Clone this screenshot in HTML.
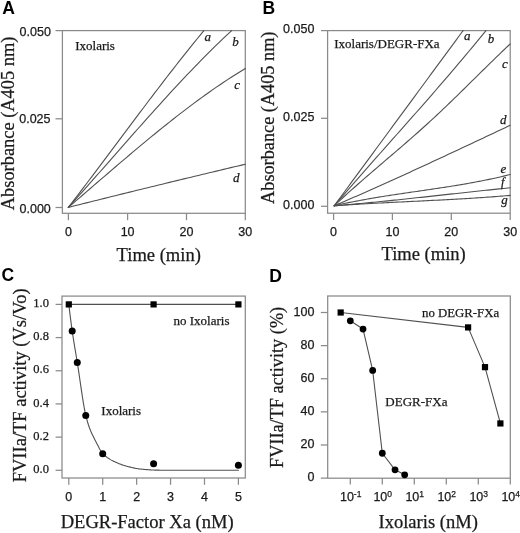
<!DOCTYPE html>
<html><head><meta charset="utf-8"><style>
html,body{margin:0;padding:0;background:#fff;overflow:hidden;}
svg{display:block;will-change:transform;}
</style></head><body>
<svg width="520" height="533" viewBox="0 0 520 533">
<rect width="520" height="533" fill="#fff"/>
<rect x="62.40" y="30.60" width="182.90" height="182.70" fill="none" stroke="#8a8a8a" stroke-width="1.25"/>
<line x1="55.50" y1="30.60" x2="62.40" y2="30.60" stroke="#8a8a8a" stroke-width="1.25"/>
<line x1="55.50" y1="118.80" x2="62.40" y2="118.80" stroke="#8a8a8a" stroke-width="1.25"/>
<line x1="55.50" y1="207.50" x2="62.40" y2="207.50" stroke="#8a8a8a" stroke-width="1.25"/>
<text x="50.90" y="36.20" font-family='"Liberation Sans", sans-serif' font-size="12.5" text-anchor="end" font-weight="normal" font-style="normal" fill="#1a1a1a" stroke="#1a1a1a" stroke-width="0.25">0.050</text>
<text x="50.50" y="122.90" font-family='"Liberation Sans", sans-serif' font-size="12.5" text-anchor="end" font-weight="normal" font-style="normal" fill="#1a1a1a" stroke="#1a1a1a" stroke-width="0.25">0.025</text>
<text x="50.80" y="212.80" font-family='"Liberation Sans", sans-serif' font-size="12.5" text-anchor="end" font-weight="normal" font-style="normal" fill="#1a1a1a" stroke="#1a1a1a" stroke-width="0.25">0.000</text>
<line x1="68.40" y1="213.30" x2="68.40" y2="220.20" stroke="#8a8a8a" stroke-width="1.25"/>
<text x="68.40" y="235.50" font-family='"Liberation Sans", sans-serif' font-size="12.5" text-anchor="middle" font-weight="normal" font-style="normal" fill="#1a1a1a" stroke="#1a1a1a" stroke-width="0.25">0</text>
<line x1="127.60" y1="213.30" x2="127.60" y2="220.20" stroke="#8a8a8a" stroke-width="1.25"/>
<text x="127.60" y="235.50" font-family='"Liberation Sans", sans-serif' font-size="12.5" text-anchor="middle" font-weight="normal" font-style="normal" fill="#1a1a1a" stroke="#1a1a1a" stroke-width="0.25">10</text>
<line x1="186.50" y1="213.30" x2="186.50" y2="220.20" stroke="#8a8a8a" stroke-width="1.25"/>
<text x="186.50" y="235.50" font-family='"Liberation Sans", sans-serif' font-size="12.5" text-anchor="middle" font-weight="normal" font-style="normal" fill="#1a1a1a" stroke="#1a1a1a" stroke-width="0.25">20</text>
<line x1="245.30" y1="213.30" x2="245.30" y2="220.20" stroke="#8a8a8a" stroke-width="1.25"/>
<text x="245.30" y="235.50" font-family='"Liberation Sans", sans-serif' font-size="12.5" text-anchor="middle" font-weight="normal" font-style="normal" fill="#1a1a1a" stroke="#1a1a1a" stroke-width="0.25">30</text>
<text x="116.60" y="261.00" font-family='"Liberation Serif", serif' font-size="18.55" text-anchor="start" font-weight="normal" font-style="normal" fill="#1a1a1a" stroke="#1a1a1a" stroke-width="0.25">Time (min)</text>
<text x="14.20" y="210.20" font-family='"Liberation Serif", serif' font-size="18.4" text-anchor="start" font-weight="normal" font-style="normal" fill="#1a1a1a" stroke="#1a1a1a" stroke-width="0.25" transform="rotate(-90 14.20 210.20)">Absorbance (A405 nm)</text>
<text x="75.20" y="49.60" font-family='"Liberation Serif", serif' font-size="13" text-anchor="start" font-weight="normal" font-style="normal" fill="#1a1a1a" stroke="#1a1a1a" stroke-width="0.25">Ixolaris</text>
<polyline points="68.30,207.40 71.29,203.54 74.29,199.66 77.28,195.76 80.28,191.85 83.27,187.93 86.26,183.99 89.26,180.04 92.25,176.09 95.24,172.12 98.24,168.14 101.23,164.16 104.23,160.17 107.22,156.18 110.21,152.18 113.21,148.18 116.20,144.18 119.20,140.17 122.19,136.17 125.18,132.17 128.18,128.16 131.17,124.17 134.17,120.17 137.16,116.18 140.15,112.20 143.15,108.22 146.14,104.25 149.13,100.29 152.13,96.34 155.12,92.40 158.12,88.47 161.11,84.56 164.10,80.66 167.10,76.78 170.09,72.91 173.09,69.06 176.08,65.22 179.07,61.41 182.07,57.61 185.06,53.84 188.06,50.09 191.05,46.36 194.04,42.66 197.04,38.98 200.03,35.33 203.02,31.70 203.94,30.60" fill="none" stroke="#505050" stroke-width="1.1" stroke-linejoin="round" stroke-linecap="round"/>
<polyline points="68.30,207.40 71.80,203.52 75.31,199.62 78.81,195.71 82.32,191.78 85.82,187.85 89.32,183.90 92.83,179.94 96.33,175.98 99.84,172.00 103.34,168.03 106.84,164.05 110.35,160.06 113.85,156.08 117.36,152.09 120.86,148.11 124.37,144.13 127.87,140.15 131.37,136.18 134.88,132.22 138.38,128.26 141.89,124.32 145.39,120.38 148.89,116.46 152.40,112.54 155.90,108.65 159.41,104.77 162.91,100.91 166.41,97.06 169.92,93.24 173.42,89.44 176.93,85.66 180.43,81.90 183.93,78.17 187.44,74.47 190.94,70.79 194.45,67.15 197.95,63.53 201.46,59.95 204.96,56.40 208.46,52.88 211.97,49.40 215.47,45.96 218.98,42.56 222.48,39.20 225.98,35.88 229.49,32.60 231.65,30.60" fill="none" stroke="#505050" stroke-width="1.1" stroke-linejoin="round" stroke-linecap="round"/>
<polyline points="68.30,207.40 71.91,204.30 75.52,201.20 79.14,198.10 82.75,194.99 86.36,191.88 89.97,188.76 93.59,185.65 97.20,182.54 100.81,179.43 104.42,176.32 108.03,173.22 111.65,170.12 115.26,167.03 118.87,163.94 122.48,160.87 126.10,157.80 129.71,154.74 133.32,151.70 136.93,148.66 140.54,145.64 144.16,142.64 147.77,139.65 151.38,136.67 154.99,133.72 158.61,130.78 162.22,127.86 165.83,124.96 169.44,122.09 173.06,119.23 176.67,116.41 180.28,113.60 183.89,110.82 187.50,108.07 191.12,105.35 194.73,102.65 198.34,99.99 201.95,97.35 205.57,94.75 209.18,92.18 212.79,89.65 216.40,87.15 220.01,84.69 223.63,82.26 227.24,79.88 230.85,77.53 234.46,75.22 238.08,72.95 241.69,70.73 245.30,68.55" fill="none" stroke="#505050" stroke-width="1.1" stroke-linejoin="round" stroke-linecap="round"/>
<polyline points="68.30,207.40 71.91,206.49 75.52,205.58 79.14,204.68 82.75,203.77 86.36,202.87 89.97,201.97 93.59,201.07 97.20,200.17 100.81,199.27 104.42,198.37 108.03,197.47 111.65,196.58 115.26,195.68 118.87,194.79 122.48,193.90 126.10,193.00 129.71,192.11 133.32,191.23 136.93,190.34 140.54,189.45 144.16,188.57 147.77,187.68 151.38,186.80 154.99,185.92 158.61,185.04 162.22,184.16 165.83,183.28 169.44,182.40 173.06,181.52 176.67,180.65 180.28,179.77 183.89,178.90 187.50,178.03 191.12,177.16 194.73,176.29 198.34,175.42 201.95,174.55 205.57,173.69 209.18,172.82 212.79,171.96 216.40,171.10 220.01,170.23 223.63,169.37 227.24,168.52 230.85,167.66 234.46,166.80 238.08,165.94 241.69,165.09 245.30,164.24" fill="none" stroke="#505050" stroke-width="1.1" stroke-linejoin="round" stroke-linecap="round"/>
<text x="204.60" y="41.10" font-family='"Liberation Serif", serif' font-size="13" text-anchor="start" font-weight="normal" font-style="italic" fill="#1a1a1a" stroke="#1a1a1a" stroke-width="0.25">a</text>
<text x="232.20" y="46.40" font-family='"Liberation Serif", serif' font-size="13" text-anchor="start" font-weight="normal" font-style="italic" fill="#1a1a1a" stroke="#1a1a1a" stroke-width="0.25">b</text>
<text x="234.20" y="88.70" font-family='"Liberation Serif", serif' font-size="13" text-anchor="start" font-weight="normal" font-style="italic" fill="#1a1a1a" stroke="#1a1a1a" stroke-width="0.25">c</text>
<text x="233.00" y="181.70" font-family='"Liberation Serif", serif' font-size="13" text-anchor="start" font-weight="normal" font-style="italic" fill="#1a1a1a" stroke="#1a1a1a" stroke-width="0.25">d</text>
<text x="2.30" y="13.80" font-family='"Liberation Sans", sans-serif' font-size="17.5" text-anchor="start" font-weight="bold" font-style="normal" fill="#000">A</text>
<rect x="327.60" y="30.60" width="182.60" height="182.60" fill="none" stroke="#8a8a8a" stroke-width="1.25"/>
<line x1="321.00" y1="30.60" x2="327.60" y2="30.60" stroke="#8a8a8a" stroke-width="1.25"/>
<line x1="321.00" y1="118.30" x2="327.60" y2="118.30" stroke="#8a8a8a" stroke-width="1.25"/>
<line x1="321.00" y1="206.30" x2="327.60" y2="206.30" stroke="#8a8a8a" stroke-width="1.25"/>
<text x="314.40" y="33.00" font-family='"Liberation Sans", sans-serif' font-size="12.5" text-anchor="end" font-weight="normal" font-style="normal" fill="#1a1a1a" stroke="#1a1a1a" stroke-width="0.25">0.050</text>
<text x="314.40" y="120.70" font-family='"Liberation Sans", sans-serif' font-size="12.5" text-anchor="end" font-weight="normal" font-style="normal" fill="#1a1a1a" stroke="#1a1a1a" stroke-width="0.25">0.025</text>
<text x="314.40" y="208.60" font-family='"Liberation Sans", sans-serif' font-size="12.5" text-anchor="end" font-weight="normal" font-style="normal" fill="#1a1a1a" stroke="#1a1a1a" stroke-width="0.25">0.000</text>
<line x1="333.60" y1="213.20" x2="333.60" y2="220.00" stroke="#8a8a8a" stroke-width="1.25"/>
<text x="333.60" y="235.50" font-family='"Liberation Sans", sans-serif' font-size="12.5" text-anchor="middle" font-weight="normal" font-style="normal" fill="#1a1a1a" stroke="#1a1a1a" stroke-width="0.25">0</text>
<line x1="392.40" y1="213.20" x2="392.40" y2="220.00" stroke="#8a8a8a" stroke-width="1.25"/>
<text x="392.40" y="235.50" font-family='"Liberation Sans", sans-serif' font-size="12.5" text-anchor="middle" font-weight="normal" font-style="normal" fill="#1a1a1a" stroke="#1a1a1a" stroke-width="0.25">10</text>
<line x1="451.30" y1="213.20" x2="451.30" y2="220.00" stroke="#8a8a8a" stroke-width="1.25"/>
<text x="451.30" y="235.50" font-family='"Liberation Sans", sans-serif' font-size="12.5" text-anchor="middle" font-weight="normal" font-style="normal" fill="#1a1a1a" stroke="#1a1a1a" stroke-width="0.25">20</text>
<line x1="510.20" y1="213.20" x2="510.20" y2="220.00" stroke="#8a8a8a" stroke-width="1.25"/>
<text x="510.20" y="235.50" font-family='"Liberation Sans", sans-serif' font-size="12.5" text-anchor="middle" font-weight="normal" font-style="normal" fill="#1a1a1a" stroke="#1a1a1a" stroke-width="0.25">30</text>
<text x="381.50" y="260.40" font-family='"Liberation Serif", serif' font-size="18.55" text-anchor="start" font-weight="normal" font-style="normal" fill="#1a1a1a" stroke="#1a1a1a" stroke-width="0.25">Time (min)</text>
<text x="274.20" y="203.90" font-family='"Liberation Serif", serif' font-size="18.25" text-anchor="start" font-weight="normal" font-style="normal" fill="#1a1a1a" stroke="#1a1a1a" stroke-width="0.25" transform="rotate(-90 274.20 203.90)">Absorbance (A405 nm)</text>
<text x="334.20" y="47.80" font-family='"Liberation Serif", serif' font-size="13" text-anchor="start" font-weight="normal" font-style="normal" fill="#1a1a1a" stroke="#1a1a1a" stroke-width="0.25">Ixolaris/DEGR-FXa</text>
<polyline points="334.20,205.80 336.97,202.03 339.74,198.27 342.51,194.50 345.29,190.73 348.06,186.96 350.83,183.20 353.60,179.43 356.37,175.66 359.14,171.90 361.91,168.13 364.69,164.36 367.46,160.60 370.23,156.83 373.00,153.06 375.77,149.29 378.54,145.53 381.31,141.76 384.09,137.99 386.86,134.23 389.63,130.46 392.40,126.69 395.17,122.92 397.94,119.16 400.71,115.39 403.49,111.62 406.26,107.86 409.03,104.09 411.80,100.32 414.57,96.56 417.34,92.79 420.11,89.02 422.89,85.25 425.66,81.49 428.43,77.72 431.20,73.95 433.97,70.19 436.74,66.42 439.51,62.65 442.29,58.88 445.06,55.12 447.83,51.35 450.60,47.58 453.37,43.82 456.14,40.05 458.91,36.28 461.69,32.51 463.09,30.60" fill="none" stroke="#505050" stroke-width="1.1" stroke-linejoin="round" stroke-linecap="round"/>
<polyline points="334.20,205.80 337.48,201.98 340.76,198.17 344.04,194.37 347.33,190.59 350.61,186.82 353.89,183.06 357.17,179.31 360.45,175.57 363.73,171.83 367.02,168.11 370.30,164.39 373.58,160.67 376.86,156.96 380.14,153.26 383.42,149.55 386.71,145.85 389.99,142.15 393.27,138.45 396.55,134.75 399.83,131.05 403.11,127.35 406.40,123.64 409.68,119.93 412.96,116.22 416.24,112.50 419.52,108.77 422.80,105.03 426.09,101.29 429.37,97.54 432.65,93.78 435.93,90.01 439.21,86.22 442.49,82.42 445.78,78.62 449.06,74.79 452.34,70.95 455.62,67.10 458.90,63.23 462.18,59.34 465.47,55.43 468.75,51.50 472.03,47.56 475.31,43.59 478.59,39.60 481.87,35.59 485.16,31.55 485.92,30.60" fill="none" stroke="#505050" stroke-width="1.1" stroke-linejoin="round" stroke-linecap="round"/>
<polyline points="334.20,205.80 336.43,203.70 338.66,201.62 340.88,199.56 343.11,197.51 345.34,195.48 347.57,193.46 349.79,191.45 352.02,189.45 354.25,187.47 356.48,185.49 358.71,183.53 360.93,181.57 363.16,179.62 365.39,177.68 367.62,175.75 369.85,173.82 372.07,171.90 374.30,169.98 376.53,168.07 378.76,166.16 380.98,164.25 383.21,162.35 385.44,160.44 387.67,158.54 389.90,156.63 392.12,154.73 394.35,152.82 396.58,150.91 398.81,148.99 401.04,147.07 403.26,145.15 405.49,143.22 407.72,141.29 409.95,139.35 412.17,137.40 414.40,135.44 416.63,133.47 418.86,131.50 421.09,129.51 423.31,127.51 425.54,125.50 427.77,123.47 430.00,121.44 432.23,119.39 434.45,117.32 436.68,115.24 438.91,113.15 441.14,111.04 443.36,108.93 445.59,106.80 447.82,104.66 450.05,102.52 452.28,100.37 454.50,98.20 456.73,96.04 458.96,93.86 461.19,91.68 463.42,89.50 465.64,87.31 467.87,85.12 470.10,82.93 472.33,80.73 474.55,78.53 476.78,76.34 479.01,74.14 481.24,71.95 483.47,69.76 485.69,67.57 487.92,65.38 490.15,63.20 492.38,61.03 494.61,58.86 496.83,56.70 499.06,54.54 501.29,52.39 503.52,50.26 505.74,48.13 507.97,46.01 510.20,43.90" fill="none" stroke="#505050" stroke-width="1.1" stroke-linejoin="round" stroke-linecap="round"/>
<polyline points="334.20,205.80 336.43,204.84 338.66,203.88 340.88,202.92 343.11,201.96 345.34,200.99 347.57,200.02 349.79,199.05 352.02,198.08 354.25,197.10 356.48,196.13 358.71,195.15 360.93,194.17 363.16,193.18 365.39,192.20 367.62,191.21 369.85,190.22 372.07,189.23 374.30,188.24 376.53,187.24 378.76,186.25 380.98,185.25 383.21,184.25 385.44,183.25 387.67,182.25 389.90,181.24 392.12,180.24 394.35,179.23 396.58,178.22 398.81,177.21 401.04,176.19 403.26,175.18 405.49,174.16 407.72,173.15 409.95,172.13 412.17,171.11 414.40,170.09 416.63,169.06 418.86,168.04 421.09,167.01 423.31,165.99 425.54,164.96 427.77,163.93 430.00,162.90 432.23,161.87 434.45,160.84 436.68,159.80 438.91,158.77 441.14,157.73 443.36,156.70 445.59,155.66 447.82,154.62 450.05,153.58 452.28,152.54 454.50,151.50 456.73,150.46 458.96,149.42 461.19,148.37 463.42,147.33 465.64,146.28 467.87,145.24 470.10,144.19 472.33,143.15 474.55,142.10 476.78,141.05 479.01,140.00 481.24,138.95 483.47,137.90 485.69,136.85 487.92,135.80 490.15,134.75 492.38,133.70 494.61,132.65 496.83,131.59 499.06,130.54 501.29,129.49 503.52,128.44 505.74,127.38 507.97,126.33 510.20,125.28" fill="none" stroke="#505050" stroke-width="1.1" stroke-linejoin="round" stroke-linecap="round"/>
<polyline points="334.20,205.80 336.43,205.29 338.66,204.78 340.88,204.29 343.11,203.81 345.34,203.33 347.57,202.87 349.79,202.41 352.02,201.97 354.25,201.53 356.48,201.10 358.71,200.67 360.93,200.26 363.16,199.85 365.39,199.44 367.62,199.05 369.85,198.66 372.07,198.27 374.30,197.90 376.53,197.52 378.76,197.16 380.98,196.79 383.21,196.44 385.44,196.08 387.67,195.73 389.90,195.39 392.12,195.04 394.35,194.70 396.58,194.37 398.81,194.03 401.04,193.70 403.26,193.37 405.49,193.04 407.72,192.72 409.95,192.39 412.17,192.07 414.40,191.74 416.63,191.42 418.86,191.10 421.09,190.78 423.31,190.45 425.54,190.13 427.77,189.80 430.00,189.48 432.23,189.15 434.45,188.82 436.68,188.48 438.91,188.15 441.14,187.81 443.36,187.47 445.59,187.13 447.82,186.78 450.05,186.43 452.28,186.08 454.50,185.72 456.73,185.35 458.96,184.98 461.19,184.61 463.42,184.23 465.64,183.84 467.87,183.45 470.10,183.06 472.33,182.65 474.55,182.24 476.78,181.82 479.01,181.40 481.24,180.96 483.47,180.52 485.69,180.07 487.92,179.61 490.15,179.15 492.38,178.67 494.61,178.19 496.83,177.69 499.06,177.19 501.29,176.67 503.52,176.14 505.74,175.61 507.97,175.06 510.20,174.50" fill="none" stroke="#505050" stroke-width="1.1" stroke-linejoin="round" stroke-linecap="round"/>
<polyline points="334.20,205.80 336.43,205.62 338.66,205.43 340.88,205.25 343.11,205.06 345.34,204.87 347.57,204.67 349.79,204.48 352.02,204.28 354.25,204.08 356.48,203.88 358.71,203.67 360.93,203.47 363.16,203.26 365.39,203.05 367.62,202.84 369.85,202.62 372.07,202.41 374.30,202.19 376.53,201.97 378.76,201.75 380.98,201.53 383.21,201.31 385.44,201.08 387.67,200.85 389.90,200.63 392.12,200.40 394.35,200.17 396.58,199.94 398.81,199.70 401.04,199.47 403.26,199.24 405.49,199.00 407.72,198.76 409.95,198.53 412.17,198.29 414.40,198.05 416.63,197.81 418.86,197.57 421.09,197.33 423.31,197.09 425.54,196.85 427.77,196.60 430.00,196.36 432.23,196.12 434.45,195.87 436.68,195.63 438.91,195.39 441.14,195.14 443.36,194.90 445.59,194.65 447.82,194.41 450.05,194.17 452.28,193.92 454.50,193.68 456.73,193.43 458.96,193.19 461.19,192.95 463.42,192.71 465.64,192.46 467.87,192.22 470.10,191.98 472.33,191.74 474.55,191.50 476.78,191.26 479.01,191.02 481.24,190.78 483.47,190.55 485.69,190.31 487.92,190.08 490.15,189.84 492.38,189.61 494.61,189.38 496.83,189.15 499.06,188.92 501.29,188.69 503.52,188.46 505.74,188.24 507.97,188.01 510.20,187.79" fill="none" stroke="#505050" stroke-width="1.1" stroke-linejoin="round" stroke-linecap="round"/>
<polyline points="334.20,205.80 336.43,205.64 338.66,205.48 340.88,205.33 343.11,205.18 345.34,205.03 347.57,204.88 349.79,204.74 352.02,204.60 354.25,204.46 356.48,204.33 358.71,204.19 360.93,204.06 363.16,203.93 365.39,203.80 367.62,203.68 369.85,203.55 372.07,203.43 374.30,203.31 376.53,203.19 378.76,203.07 380.98,202.95 383.21,202.84 385.44,202.72 387.67,202.61 389.90,202.50 392.12,202.38 394.35,202.27 396.58,202.16 398.81,202.05 401.04,201.94 403.26,201.84 405.49,201.73 407.72,201.62 409.95,201.51 412.17,201.40 414.40,201.30 416.63,201.19 418.86,201.08 421.09,200.97 423.31,200.86 425.54,200.75 427.77,200.64 430.00,200.53 432.23,200.42 434.45,200.31 436.68,200.20 438.91,200.08 441.14,199.97 443.36,199.85 445.59,199.73 447.82,199.62 450.05,199.50 452.28,199.37 454.50,199.25 456.73,199.13 458.96,199.00 461.19,198.87 463.42,198.74 465.64,198.61 467.87,198.47 470.10,198.34 472.33,198.20 474.55,198.06 476.78,197.91 479.01,197.77 481.24,197.62 483.47,197.47 485.69,197.31 487.92,197.16 490.15,196.99 492.38,196.83 494.61,196.66 496.83,196.49 499.06,196.32 501.29,196.14 503.52,195.96 505.74,195.78 507.97,195.59 510.20,195.40" fill="none" stroke="#505050" stroke-width="1.1" stroke-linejoin="round" stroke-linecap="round"/>
<text x="464.00" y="39.80" font-family='"Liberation Serif", serif' font-size="13" text-anchor="start" font-weight="normal" font-style="italic" fill="#1a1a1a" stroke="#1a1a1a" stroke-width="0.25">a</text>
<text x="487.80" y="43.10" font-family='"Liberation Serif", serif' font-size="13" text-anchor="start" font-weight="normal" font-style="italic" fill="#1a1a1a" stroke="#1a1a1a" stroke-width="0.25">b</text>
<text x="502.00" y="67.70" font-family='"Liberation Serif", serif' font-size="13" text-anchor="start" font-weight="normal" font-style="italic" fill="#1a1a1a" stroke="#1a1a1a" stroke-width="0.25">c</text>
<text x="500.00" y="123.70" font-family='"Liberation Serif", serif' font-size="13" text-anchor="start" font-weight="normal" font-style="italic" fill="#1a1a1a" stroke="#1a1a1a" stroke-width="0.25">d</text>
<text x="500.40" y="172.90" font-family='"Liberation Serif", serif' font-size="13" text-anchor="start" font-weight="normal" font-style="italic" fill="#1a1a1a" stroke="#1a1a1a" stroke-width="0.25">e</text>
<text x="501.00" y="185.60" font-family='"Liberation Serif", serif' font-size="12.4" text-anchor="start" font-weight="normal" font-style="italic" fill="#1a1a1a" stroke="#1a1a1a" stroke-width="0.25">f</text>
<text x="501.30" y="204.30" font-family='"Liberation Serif", serif' font-size="13" text-anchor="start" font-weight="normal" font-style="italic" fill="#1a1a1a" stroke="#1a1a1a" stroke-width="0.25">g</text>
<text x="262.60" y="13.80" font-family='"Liberation Sans", sans-serif' font-size="17.5" text-anchor="start" font-weight="bold" font-style="normal" fill="#000">B</text>
<rect x="62.00" y="296.10" width="183.30" height="181.90" fill="none" stroke="#8a8a8a" stroke-width="1.25"/>
<line x1="55.60" y1="470.30" x2="62.00" y2="470.30" stroke="#8a8a8a" stroke-width="1.25"/>
<text x="48.90" y="473.00" font-family='"Liberation Serif", serif' font-size="12.5" text-anchor="end" font-weight="normal" font-style="normal" fill="#1a1a1a" stroke="#1a1a1a" stroke-width="0.25">0.0</text>
<line x1="55.60" y1="437.12" x2="62.00" y2="437.12" stroke="#8a8a8a" stroke-width="1.25"/>
<text x="48.90" y="439.82" font-family='"Liberation Serif", serif' font-size="12.5" text-anchor="end" font-weight="normal" font-style="normal" fill="#1a1a1a" stroke="#1a1a1a" stroke-width="0.25">0.2</text>
<line x1="55.60" y1="403.94" x2="62.00" y2="403.94" stroke="#8a8a8a" stroke-width="1.25"/>
<text x="48.90" y="406.64" font-family='"Liberation Serif", serif' font-size="12.5" text-anchor="end" font-weight="normal" font-style="normal" fill="#1a1a1a" stroke="#1a1a1a" stroke-width="0.25">0.4</text>
<line x1="55.60" y1="370.76" x2="62.00" y2="370.76" stroke="#8a8a8a" stroke-width="1.25"/>
<text x="48.90" y="373.46" font-family='"Liberation Serif", serif' font-size="12.5" text-anchor="end" font-weight="normal" font-style="normal" fill="#1a1a1a" stroke="#1a1a1a" stroke-width="0.25">0.6</text>
<line x1="55.60" y1="337.58" x2="62.00" y2="337.58" stroke="#8a8a8a" stroke-width="1.25"/>
<text x="48.90" y="340.28" font-family='"Liberation Serif", serif' font-size="12.5" text-anchor="end" font-weight="normal" font-style="normal" fill="#1a1a1a" stroke="#1a1a1a" stroke-width="0.25">0.8</text>
<line x1="55.60" y1="304.40" x2="62.00" y2="304.40" stroke="#8a8a8a" stroke-width="1.25"/>
<text x="48.90" y="307.10" font-family='"Liberation Serif", serif' font-size="12.5" text-anchor="end" font-weight="normal" font-style="normal" fill="#1a1a1a" stroke="#1a1a1a" stroke-width="0.25">1.0</text>
<line x1="68.80" y1="478.00" x2="68.80" y2="484.80" stroke="#8a8a8a" stroke-width="1.25"/>
<text x="68.80" y="501.00" font-family='"Liberation Sans", sans-serif' font-size="12.5" text-anchor="middle" font-weight="normal" font-style="normal" fill="#1a1a1a" stroke="#1a1a1a" stroke-width="0.25">0</text>
<line x1="102.72" y1="478.00" x2="102.72" y2="484.80" stroke="#8a8a8a" stroke-width="1.25"/>
<text x="102.72" y="501.00" font-family='"Liberation Sans", sans-serif' font-size="12.5" text-anchor="middle" font-weight="normal" font-style="normal" fill="#1a1a1a" stroke="#1a1a1a" stroke-width="0.25">1</text>
<line x1="136.64" y1="478.00" x2="136.64" y2="484.80" stroke="#8a8a8a" stroke-width="1.25"/>
<text x="136.64" y="501.00" font-family='"Liberation Sans", sans-serif' font-size="12.5" text-anchor="middle" font-weight="normal" font-style="normal" fill="#1a1a1a" stroke="#1a1a1a" stroke-width="0.25">2</text>
<line x1="170.56" y1="478.00" x2="170.56" y2="484.80" stroke="#8a8a8a" stroke-width="1.25"/>
<text x="170.56" y="501.00" font-family='"Liberation Sans", sans-serif' font-size="12.5" text-anchor="middle" font-weight="normal" font-style="normal" fill="#1a1a1a" stroke="#1a1a1a" stroke-width="0.25">3</text>
<line x1="204.48" y1="478.00" x2="204.48" y2="484.80" stroke="#8a8a8a" stroke-width="1.25"/>
<text x="204.48" y="501.00" font-family='"Liberation Sans", sans-serif' font-size="12.5" text-anchor="middle" font-weight="normal" font-style="normal" fill="#1a1a1a" stroke="#1a1a1a" stroke-width="0.25">4</text>
<line x1="238.40" y1="478.00" x2="238.40" y2="484.80" stroke="#8a8a8a" stroke-width="1.25"/>
<text x="238.40" y="501.00" font-family='"Liberation Sans", sans-serif' font-size="12.5" text-anchor="middle" font-weight="normal" font-style="normal" fill="#1a1a1a" stroke="#1a1a1a" stroke-width="0.25">5</text>
<text x="60.70" y="528.40" font-family='"Liberation Serif", serif' font-size="18.55" text-anchor="start" font-weight="normal" font-style="normal" fill="#1a1a1a" stroke="#1a1a1a" stroke-width="0.25">DEGR-Factor Xa (nM)</text>
<text x="25.60" y="482.30" font-family='"Liberation Serif", serif' font-size="18.5" text-anchor="start" font-weight="normal" font-style="normal" fill="#1a1a1a" stroke="#1a1a1a" stroke-width="0.25" transform="rotate(-90 25.60 482.30)">FVIIa/TF activity (Vs/Vo)</text>
<text x="173.50" y="324.80" font-family='"Liberation Serif", serif' font-size="13" text-anchor="start" font-weight="normal" font-style="normal" fill="#1a1a1a" stroke="#1a1a1a" stroke-width="0.25">no Ixolaris</text>
<text x="101.30" y="414.80" font-family='"Liberation Serif", serif' font-size="13" text-anchor="start" font-weight="normal" font-style="normal" fill="#1a1a1a" stroke="#1a1a1a" stroke-width="0.25">Ixolaris</text>
<polyline points="68.80,304.40 69.65,311.52 70.50,318.38 71.36,324.92 72.21,331.06 73.06,336.79 73.91,342.19 74.77,347.37 75.62,352.44 76.47,357.53 77.32,362.73 78.17,368.19 79.03,373.89 79.88,379.72 80.73,385.59 81.58,391.38 82.44,396.99 83.29,402.32 84.14,407.27 84.99,411.72 85.85,415.58 86.70,418.96 87.55,422.01 88.40,424.76 89.25,427.24 90.11,429.50 90.96,431.58 91.81,433.52 92.66,435.35 93.52,437.08 94.37,438.75 95.22,440.38 96.07,442.01 96.92,443.66 97.78,445.35 98.63,447.03 99.48,448.66 100.33,450.19 101.19,451.57 102.04,452.76 102.89,453.72 103.74,454.55 104.59,455.33 105.45,456.07 106.30,456.75 107.15,457.40 108.00,458.01 108.86,458.58 109.71,459.12 110.56,459.63 111.41,460.11 112.27,460.57 113.12,461.00 113.97,461.42 114.82,461.83 115.67,462.22 116.53,462.60 117.38,462.97 118.23,463.32 119.08,463.66 119.94,463.99 120.79,464.31 121.64,464.62 122.49,464.91 123.34,465.19 124.20,465.47 125.05,465.73 125.90,465.98 126.75,466.22 127.61,466.46 128.46,466.68 129.31,466.90 130.16,467.11 131.02,467.32 131.87,467.52 132.72,467.72 133.57,467.91 134.42,468.09 135.28,468.27 136.13,468.43 136.98,468.58 137.83,468.72 138.69,468.84 139.54,468.95 140.39,469.04 141.24,469.13 142.09,469.21 142.95,469.29 143.80,469.37 144.65,469.45 145.50,469.52 146.36,469.59 147.21,469.66 148.06,469.73 148.91,469.79 149.76,469.84 150.62,469.89 151.47,469.94 152.32,469.98 153.17,470.02 154.03,470.06 154.88,470.09 155.73,470.11 156.58,470.13 157.44,470.14 158.29,470.15 159.14,470.16 159.99,470.18 160.84,470.19 161.70,470.20 162.55,470.21 163.40,470.22 164.25,470.23 165.11,470.24 165.96,470.24 166.81,470.25 167.66,470.26 168.51,470.27 169.37,470.27 170.22,470.28 171.07,470.28 171.92,470.29 172.78,470.29 173.63,470.29 174.48,470.30 175.33,470.30 176.18,470.30 177.04,470.30 177.89,470.30 178.74,470.30 179.59,470.30 180.45,470.30 181.30,470.30 182.15,470.30 183.00,470.30 183.86,470.30 184.71,470.30 185.56,470.30 186.41,470.30 187.26,470.30 188.12,470.30 188.97,470.30 189.82,470.30 190.67,470.30 191.53,470.30 192.38,470.30 193.23,470.30 194.08,470.30 194.93,470.30 195.79,470.30 196.64,470.30 197.49,470.30 198.34,470.30 199.20,470.30 200.05,470.30 200.90,470.30 201.75,470.30 202.61,470.30 203.46,470.30 204.31,470.30 205.16,470.30 206.01,470.30 206.87,470.30 207.72,470.30 208.57,470.30 209.42,470.30 210.28,470.30 211.13,470.30 211.98,470.30 212.83,470.30 213.68,470.30 214.54,470.30 215.39,470.30 216.24,470.30 217.09,470.30 217.95,470.30 218.80,470.30 219.65,470.30 220.50,470.30 221.35,470.30 222.21,470.30 223.06,470.30 223.91,470.30 224.76,470.30 225.62,470.30 226.47,470.30 227.32,470.30 228.17,470.30 229.03,470.30 229.88,470.30 230.73,470.30 231.58,470.30 232.43,470.30 233.29,470.30 234.14,470.30 234.99,470.30 235.84,470.30 236.70,470.30 237.55,470.30 238.40,470.30" fill="none" stroke="#505050" stroke-width="1.1" stroke-linejoin="round" stroke-linecap="round"/>
<polyline points="68.80,304.40 238.40,304.40" fill="none" stroke="#505050" stroke-width="1.1" stroke-linejoin="round" stroke-linecap="round"/>
<circle cx="72.19" cy="330.94" r="3.5" fill="#000"/>
<circle cx="77.28" cy="362.47" r="3.5" fill="#000"/>
<circle cx="85.76" cy="415.55" r="3.5" fill="#000"/>
<circle cx="102.72" cy="453.71" r="3.5" fill="#000"/>
<circle cx="153.60" cy="463.66" r="3.5" fill="#000"/>
<circle cx="238.40" cy="465.32" r="3.5" fill="#000"/>
<rect x="65.70" y="301.30" width="6.2" height="6.2" fill="#000"/>
<rect x="150.50" y="301.30" width="6.2" height="6.2" fill="#000"/>
<rect x="235.30" y="301.30" width="6.2" height="6.2" fill="#000"/>
<text x="1.60" y="281.40" font-family='"Liberation Sans", sans-serif' font-size="17.5" text-anchor="start" font-weight="bold" font-style="normal" fill="#000">C</text>
<rect x="327.70" y="296.00" width="182.60" height="182.20" fill="none" stroke="#8a8a8a" stroke-width="1.25"/>
<line x1="320.80" y1="478.10" x2="327.70" y2="478.10" stroke="#8a8a8a" stroke-width="1.25"/>
<text x="314.40" y="481.30" font-family='"Liberation Sans", sans-serif' font-size="12.5" text-anchor="end" font-weight="normal" font-style="normal" fill="#1a1a1a" stroke="#1a1a1a" stroke-width="0.25">0</text>
<line x1="320.80" y1="444.98" x2="327.70" y2="444.98" stroke="#8a8a8a" stroke-width="1.25"/>
<text x="314.40" y="448.18" font-family='"Liberation Sans", sans-serif' font-size="12.5" text-anchor="end" font-weight="normal" font-style="normal" fill="#1a1a1a" stroke="#1a1a1a" stroke-width="0.25">20</text>
<line x1="320.80" y1="411.86" x2="327.70" y2="411.86" stroke="#8a8a8a" stroke-width="1.25"/>
<text x="314.40" y="415.06" font-family='"Liberation Sans", sans-serif' font-size="12.5" text-anchor="end" font-weight="normal" font-style="normal" fill="#1a1a1a" stroke="#1a1a1a" stroke-width="0.25">40</text>
<line x1="320.80" y1="378.74" x2="327.70" y2="378.74" stroke="#8a8a8a" stroke-width="1.25"/>
<text x="314.40" y="381.94" font-family='"Liberation Sans", sans-serif' font-size="12.5" text-anchor="end" font-weight="normal" font-style="normal" fill="#1a1a1a" stroke="#1a1a1a" stroke-width="0.25">60</text>
<line x1="320.80" y1="345.62" x2="327.70" y2="345.62" stroke="#8a8a8a" stroke-width="1.25"/>
<text x="314.40" y="348.82" font-family='"Liberation Sans", sans-serif' font-size="12.5" text-anchor="end" font-weight="normal" font-style="normal" fill="#1a1a1a" stroke="#1a1a1a" stroke-width="0.25">80</text>
<line x1="320.80" y1="312.50" x2="327.70" y2="312.50" stroke="#8a8a8a" stroke-width="1.25"/>
<text x="314.40" y="315.70" font-family='"Liberation Sans", sans-serif' font-size="12.5" text-anchor="end" font-weight="normal" font-style="normal" fill="#1a1a1a" stroke="#1a1a1a" stroke-width="0.25">100</text>
<line x1="350.30" y1="478.20" x2="350.30" y2="484.40" stroke="#8a8a8a" stroke-width="1.25"/>
<text x="350.70" y="500.6" font-family='"Liberation Sans", sans-serif' font-size="12.5" text-anchor="middle" fill="#1a1a1a" stroke="#1a1a1a" stroke-width="0.25">10<tspan font-size="8.5" dy="-3.8">-1</tspan></text>
<line x1="382.30" y1="478.20" x2="382.30" y2="484.40" stroke="#8a8a8a" stroke-width="1.25"/>
<text x="382.70" y="500.6" font-family='"Liberation Sans", sans-serif' font-size="12.5" text-anchor="middle" fill="#1a1a1a" stroke="#1a1a1a" stroke-width="0.25">10<tspan font-size="8.5" dy="-3.8">0</tspan></text>
<line x1="414.30" y1="478.20" x2="414.30" y2="484.40" stroke="#8a8a8a" stroke-width="1.25"/>
<text x="414.70" y="500.6" font-family='"Liberation Sans", sans-serif' font-size="12.5" text-anchor="middle" fill="#1a1a1a" stroke="#1a1a1a" stroke-width="0.25">10<tspan font-size="8.5" dy="-3.8">1</tspan></text>
<line x1="446.30" y1="478.20" x2="446.30" y2="484.40" stroke="#8a8a8a" stroke-width="1.25"/>
<text x="446.70" y="500.6" font-family='"Liberation Sans", sans-serif' font-size="12.5" text-anchor="middle" fill="#1a1a1a" stroke="#1a1a1a" stroke-width="0.25">10<tspan font-size="8.5" dy="-3.8">2</tspan></text>
<line x1="478.30" y1="478.20" x2="478.30" y2="484.40" stroke="#8a8a8a" stroke-width="1.25"/>
<text x="478.70" y="500.6" font-family='"Liberation Sans", sans-serif' font-size="12.5" text-anchor="middle" fill="#1a1a1a" stroke="#1a1a1a" stroke-width="0.25">10<tspan font-size="8.5" dy="-3.8">3</tspan></text>
<line x1="510.30" y1="478.20" x2="510.30" y2="484.40" stroke="#8a8a8a" stroke-width="1.25"/>
<text x="510.70" y="500.6" font-family='"Liberation Sans", sans-serif' font-size="12.5" text-anchor="middle" fill="#1a1a1a" stroke="#1a1a1a" stroke-width="0.25">10<tspan font-size="8.5" dy="-3.8">4</tspan></text>
<text x="378.50" y="528.20" font-family='"Liberation Serif", serif' font-size="18.55" text-anchor="start" font-weight="normal" font-style="normal" fill="#1a1a1a" stroke="#1a1a1a" stroke-width="0.25">Ixolaris (nM)</text>
<text x="283.00" y="468.00" font-family='"Liberation Serif", serif' font-size="18.25" text-anchor="start" font-weight="normal" font-style="normal" fill="#1a1a1a" stroke="#1a1a1a" stroke-width="0.25" transform="rotate(-90 283.00 468.00)">FVIIa/TF activity (%)</text>
<text x="422.00" y="317.10" font-family='"Liberation Serif", serif' font-size="12.8" text-anchor="start" font-weight="normal" font-style="normal" fill="#1a1a1a" stroke="#1a1a1a" stroke-width="0.25">no DEGR-FXa</text>
<text x="385.30" y="406.40" font-family='"Liberation Serif", serif' font-size="13" text-anchor="start" font-weight="normal" font-style="normal" fill="#1a1a1a" stroke="#1a1a1a" stroke-width="0.25">DEGR-FXa</text>
<polyline points="340.67,312.50 468.10,327.40 485.00,367.15 500.39,423.45" fill="none" stroke="#505050" stroke-width="1.1" stroke-linejoin="round" stroke-linecap="round"/>
<polyline points="350.30,320.78 363.03,329.06 372.67,370.46 382.30,453.26 395.03,469.82 404.67,474.79" fill="none" stroke="#505050" stroke-width="1.1" stroke-linejoin="round" stroke-linecap="round"/>
<rect x="337.57" y="309.40" width="6.2" height="6.2" fill="#000"/>
<rect x="465.00" y="324.30" width="6.2" height="6.2" fill="#000"/>
<rect x="481.90" y="364.05" width="6.2" height="6.2" fill="#000"/>
<rect x="497.29" y="420.35" width="6.2" height="6.2" fill="#000"/>
<circle cx="350.30" cy="320.78" r="3.4" fill="#000"/>
<circle cx="363.03" cy="329.06" r="3.4" fill="#000"/>
<circle cx="372.67" cy="370.46" r="3.4" fill="#000"/>
<circle cx="382.30" cy="453.26" r="3.4" fill="#000"/>
<circle cx="395.03" cy="469.82" r="3.4" fill="#000"/>
<circle cx="404.67" cy="474.79" r="3.4" fill="#000"/>
<text x="269.30" y="281.80" font-family='"Liberation Sans", sans-serif' font-size="17.5" text-anchor="start" font-weight="bold" font-style="normal" fill="#000">D</text>
</svg>
</body></html>
